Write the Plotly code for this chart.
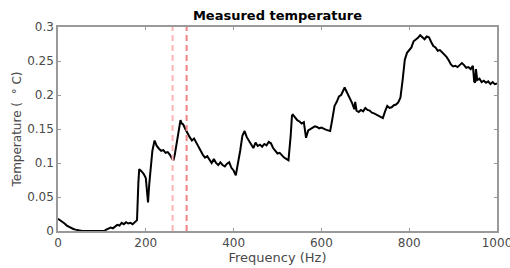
import plotly.graph_objects as go

freq = [0, 5, 10, 15, 20, 25, 30, 35, 40, 45, 50, 55, 60, 65, 70, 75, 80, 85, 90, 95,
        100, 105, 110, 115, 120, 125, 130, 135, 140, 145, 150, 155, 160, 165, 170, 175, 180, 183, 185,
        190, 195, 200, 203, 205, 208, 210, 215, 220, 225, 230, 235, 240, 245, 250, 255, 260, 263, 266,
        270, 275, 279, 282, 285, 290, 295, 300, 305, 310, 315, 320, 325, 330, 335, 340, 345, 350, 355,
        360, 365, 370, 375, 380, 385, 390, 395, 400, 405, 410, 415, 420, 425, 430, 435, 440, 445, 450,
        455, 460, 465, 470, 475, 480, 485, 490, 495, 500, 505, 510, 515, 520, 525, 530, 533, 535, 540,
        545, 550, 555, 560, 563, 565, 570, 575, 580, 585, 590, 595, 600, 605, 610, 615, 620, 625, 630,
        635, 640, 645, 650, 653, 655, 660, 665, 670, 675, 677, 680, 685, 690, 695, 700, 705, 710, 715,
        720, 725, 730, 735, 740, 745, 750, 755, 760, 765, 770, 775, 780, 785, 790, 795, 800, 805, 810,
        815, 820, 825, 830, 835, 840, 845, 850, 855, 860, 865, 870, 875, 880, 885, 890, 895, 900, 905,
        910, 915, 920, 925, 930, 935, 940, 945, 948, 950, 952, 955, 960, 965, 970, 975, 980, 985, 990,
        995, 1000]

temp = [0.018, 0.016, 0.013, 0.011, 0.008, 0.006, 0.005, 0.003, 0.002, 0.001, 0.000, 0.000, 0.000, 0.000,
        0.000, 0.000, 0.000, 0.000, 0.000, 0.001,
        0.000, 0.000, 0.002, 0.004, 0.005, 0.004, 0.007, 0.009, 0.008, 0.012, 0.010, 0.013, 0.011, 0.012,
        0.010, 0.013, 0.016, 0.070, 0.091,
        0.088, 0.084, 0.078, 0.060, 0.042, 0.070, 0.085, 0.118, 0.133, 0.125, 0.121, 0.118, 0.119, 0.115,
        0.116, 0.112, 0.106, 0.104, 0.112,
        0.130, 0.150, 0.163, 0.158, 0.157, 0.150, 0.143, 0.138, 0.133, 0.136, 0.130, 0.125, 0.118, 0.112,
        0.108, 0.110, 0.104, 0.100, 0.106,
        0.100, 0.097, 0.101, 0.097, 0.095, 0.099, 0.101, 0.093, 0.089, 0.082, 0.098, 0.118, 0.140, 0.147,
        0.138, 0.132, 0.128, 0.122, 0.130,
        0.125, 0.127, 0.124, 0.128, 0.126, 0.131, 0.129, 0.122, 0.118, 0.114, 0.115, 0.111, 0.108, 0.106,
        0.104, 0.140, 0.170, 0.171, 0.166,
        0.163, 0.161, 0.158, 0.160, 0.140, 0.137, 0.148, 0.150, 0.153, 0.154, 0.153, 0.151, 0.152, 0.150,
        0.149, 0.148, 0.147, 0.165, 0.184,
        0.190, 0.198, 0.200, 0.207, 0.211, 0.208, 0.202, 0.196, 0.188, 0.179, 0.190, 0.177, 0.175, 0.178,
        0.176, 0.181, 0.178, 0.177, 0.174,
        0.173, 0.171, 0.170, 0.168, 0.166, 0.176, 0.184, 0.181, 0.182, 0.185, 0.186, 0.189, 0.196, 0.222,
        0.252, 0.262, 0.266, 0.270, 0.279,
        0.281, 0.284, 0.288, 0.285, 0.282, 0.286, 0.285, 0.278, 0.272, 0.270, 0.265, 0.266, 0.263, 0.260,
        0.256, 0.251, 0.245, 0.242, 0.243,
        0.241, 0.244, 0.247, 0.244, 0.240, 0.241, 0.238, 0.243, 0.220, 0.218, 0.238, 0.222, 0.224, 0.219,
        0.221, 0.218, 0.220, 0.216, 0.219,
        0.216, 0.217]

marker_freqs = [261, 293]
marker_colors = ["#ffb3b3", "#f58282"]
y_range = [0, 0.3]

x_ticks = [0, 200, 400, 600, 800, 1000]
y_ticks = [0, 0.05, 0.1, 0.15, 0.2, 0.25, 0.3]
y_tick_text = ["0", "0.05", "0.1", "0.15", "0.2", "0.25", "0.3"]

fig = go.Figure()
fig.add_trace(go.Scatter(x=freq, y=temp, mode="lines",
                         line=dict(color="black", width=2), showlegend=False, hoverinfo="skip"))
for f, c in zip(marker_freqs, marker_colors):
    fig.add_trace(go.Scatter(x=[f, f], y=y_range, mode="lines",
                             line=dict(color=c, width=2, dash="6px,4px"), showlegend=False))

tick_font = dict(family="DejaVu Sans", size=12, color="#4a4a4a")
axis_common = dict(showgrid=False, zeroline=False, showline=True, linecolor="#999999", linewidth=1.5,
                   mirror="ticks", ticks="inside", ticklen=3, tickcolor="#999999", tickwidth=1,
                   tickfont=tick_font, automargin=False, ticklabeloverflow="allow")

fig.update_layout(
    width=510, height=268,
    margin=dict(l=58, r=13, t=27, b=37),
    paper_bgcolor="white", plot_bgcolor="white",
    title=dict(text="<b>Measured temperature</b>", x=0.5, xanchor="center", y=0.944, yanchor="middle",
               xref="paper", font=dict(family="DejaVu Sans", size=13, color="black")),
    xaxis=dict(range=[0, 1000], tickvals=x_ticks, **axis_common,
               title=dict(text="Frequency (Hz)", standoff=3,
                          font=dict(family="DejaVu Sans", size=13, color="#4a4a4a"))),
    yaxis=dict(range=y_range, tickvals=y_ticks, ticktext=y_tick_text, **axis_common,
               title=dict(text="Temperature (\u00a0\u00a0\u00b0\u00a0C)", standoff=3,
                          font=dict(family="DejaVu Sans", size=12, color="#4a4a4a"))),
)

fig.write_html("out.html", config={"displayModeBar": False},
               post_script="document.body.style.margin='0';document.body.style.overflow='hidden';")
